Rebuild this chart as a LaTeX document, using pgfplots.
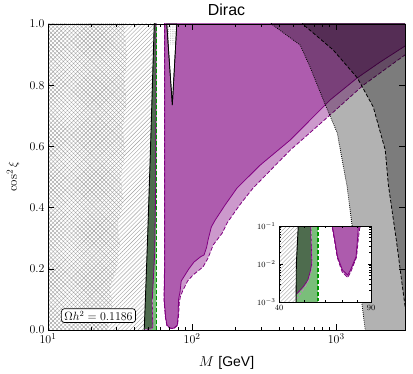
\documentclass[border=0pt]{standalone}
\usepackage{fontspec}
\newfontfamily\helv{Liberation Sans}
\usepackage{pgfplots}
\usepackage{pgfplotstable}
\pgfplotsset{compat=1.18}
\usetikzlibrary{patterns.meta}

\definecolor{mplpurple}{RGB}{128,0,128}
\definecolor{dkgreen}{RGB}{78,108,78}
\definecolor{ltgreen}{RGB}{122,190,122}
\definecolor{dashgreen}{RGB}{0,150,0}

% hatched region (M below the black line)
\pgfplotstableread{
M c
9 0.0001
46.5 0.0001
46.5 0.001
46.6 0.01
47.4 0.1
49.1 0.3
51.1 0.55
55.0 1.05
9 1.05
}\hatchne
\pgfplotstableread{
M c
9 -0.05
26 -0.05
26.5 0.03
28 0.08
27 0.14
30 0.2
31.5 0.28
30.5 0.35
33.5 0.42
32 0.5
34.5 0.58
33 0.66
35 0.74
34 0.82
35.5 0.9
34 0.97
35 1.05
9 1.05
}\hatchnw
\pgfplotstableread{
M c
46.5 0.0001
46.5 0.001
46.6 0.01
47.4 0.1
49.1 0.3
51.1 0.55
55.0 1.05
}\blackline
\pgfplotstableread{
M c
46.5 0.0001
46.5 0.001
46.6 0.01
47.4 0.1
49.1 0.3
51.1 0.55
55.0 1.05
56.4 1.05
56.4 0.0001
}\greenlt
\pgfplotstableread{
M c
46.55 0.0016
46.6 0.01
47.4 0.1
49.1 0.3
51.1 0.55
55.0 1.05
56.2 1.05
56.0 0.5
55.0 0.25
52.9 0.1
53.2 0.03
53.4 0.0104
52.6 0.006
51.5 0.0037
49.5 0.0025
47.4 0.0018
}\greendk
\pgfplotstableread{
M c
56.2 1.05
56.0 0.5
55.0 0.25
52.9 0.1
53.2 0.03
53.4 0.0104
52.6 0.006
51.5 0.0037
49.5 0.0025
47.4 0.0018
46.6 0.0016
}\greencurve
\pgfplotstableread{
M c
53.1 0.1
53.5 0.03
53.6 0.008
52.5 0.0045
51.2 0.003
49.3 0.002
47.2 0.0013
46.6 0.0012
}\greencurvedash
\pgfplotstableread{
M c
64.3 1.1
64.3 0.2
63.8 0.1
65.3 0.04
66.8 0.015
69.8 0.0062
73.3 0.0044
75.3 0.0062
79.2 0.015
80.6 0.05
81.5 0.09
83.0 0.11
86.6 0.131
93 0.16
101.6 0.18
119 0.206
129 0.235
140 0.278
162 0.317
175 0.35
215 0.41
265 0.464
480 0.588
908 0.703
1540 0.80
3000 0.899
3500 0.92
3500 1.1
}\purplelt
\pgfplotstableread{
M c
64.5 1.1
64.5 0.2
64.0 0.1
65.5 0.04
67.0 0.0155
70.0 0.0069
73.3 0.0051
75.1 0.0069
78.9 0.0155
80.0 0.05
80.5 0.1
82.5 0.125
84 0.16
88 0.175
95 0.2
103 0.222
115 0.24
121 0.245
126 0.27
129 0.294
136 0.337
144.5 0.359
169 0.408
205 0.464
297 0.539
480 0.621
908 0.752
1400 0.824
2022 0.876
3000 0.928
3500 0.94
3500 1.1
}\purpledk
\pgfplotstableread{
M c
66.7 1.0
72.9 0.735
78.3 1.0
}\notch
\pgfplotstableread{
M c
66.9 1.0
68.3 0.93
76.9 0.93
78.1 1.0
}\notchdots
\pgfplotstableread{
M c
340 1.1
355 1.0
562 0.931
659 0.859
813 0.752
1016 0.644
1191 0.467
1355 0.261
1589 0.0
1650 -0.1
4000 -0.1
4000 1.1
}\greydot
\pgfplotstableread{
M c
570 1.1
585 1.0
953 0.915
1400 0.824
1806 0.729
2188 0.588
2300 0.474
2611 0.294
2917 0.121
3100 0.03
4000 -0.1
4000 1.1
}\greydash

\begin{document}
\begin{tikzpicture}
\path[use as bounding box] (-48bp,-44bp) rectangle (365bp,330bp);
\begin{axis}[
  scale only axis, width=357bp, height=306bp,
  xmode=log, xmin=10, xmax=3000, ymin=0, ymax=1,
  ytick={0,0.2,0.4,0.6,0.8,1.0},
  yticklabel style={/pgf/number format/.cd, fixed, fixed zerofill, precision=1},
  tick label style={font=\fontsize{13}{15}\selectfont},
  title={\helv Dirac},
  title style={font=\fontsize{16}{18}\selectfont, yshift=-1pt},
  xlabel={$M$ {\helv [GeV]}},
  xlabel style={font=\fontsize{14}{16}\selectfont, at={(0.5,-0.118)}, anchor=base},
  ylabel={$\cos^2\xi$},
  ylabel style={font=\fontsize{13}{15}\selectfont, at={(-0.098,0.5)}, anchor=center},
  axis on top, tick align=inside,
  major tick length=6bp, minor tick length=3bp,
  every tick/.style={black, line width=0.6pt},
  axis line style={line width=0.8pt},
]
\addplot[draw=none, pattern={Lines[angle=-45, distance=2.9pt, line width=0.4pt]}, pattern color=gray!75] table {\hatchnw} -- cycle;
\addplot[draw=none, pattern={Lines[angle=45, distance=2.9pt, line width=0.4pt]}, pattern color=gray!75] table {\hatchne} -- cycle;
\addplot[draw=none, fill=ltgreen] table {\greenlt} -- cycle;
\addplot[draw=none, fill=dkgreen] table {\greendk} -- cycle;
\addplot[mplpurple, line width=0.8pt] table {\greencurve};
\addplot[mplpurple!50, line width=0.8pt, dash pattern=on 3pt off 2pt] table {\greencurvedash};
\addplot[black, line width=0.9pt] table {\blackline};
\addplot[mplpurple, dash pattern=on 4pt off 2pt, line width=0.8pt, fill=mplpurple, fill opacity=0.4] table {\purplelt} -- cycle;
\addplot[mplpurple, line width=0.8pt, fill=mplpurple, fill opacity=0.4] table {\purpledk} -- cycle;
\addplot[black, line width=0.7pt, fill=white] table {\notch} -- cycle;
\addplot[draw=none, pattern={Dots[distance=1.8pt, radius=0.35pt]}, pattern color=gray] table {\notchdots} -- cycle;
\addplot[black, line width=0.7pt] table {\notch};
\addplot[black, dash pattern=on 0.8pt off 1.2pt, line width=0.8pt, fill=black, fill opacity=0.3] table {\greydot} -- cycle;
\addplot[black, dash pattern=on 3.5pt off 2pt, line width=0.8pt, fill=black, fill opacity=0.3] table {\greydash} -- cycle;
\addplot[dashgreen, line width=1.4pt, dash pattern=on 4pt off 2pt] coordinates {(56.4,0) (56.4,1)};
\node[draw=black, fill=white, rounded corners=3pt, line width=0.7pt, inner xsep=3pt, inner ysep=2.2pt,
  font=\fontsize{11.5}{13}\selectfont] at (axis cs:22.4,0.047) {$\Omega h^2 = 0.1186$};
\end{axis}

\begin{axis}[
  at={(231bp,28bp)}, anchor=south west,
  scale only axis, width=92bp, height=76bp,
  xmode=log, ymode=log, xmin=40, xmax=90, ymin=1e-3, ymax=1e-1,
  xtick={40,90}, xticklabels={40,90}, minor xtick={50,60,70,80},
  ytick={1e-3,1e-2,1e-1},
  tick label style={font=\fontsize{8}{9}\selectfont},
  axis background/.style={fill=white},
  axis on top, tick align=inside,
  major tick length=3.5bp, minor tick length=2bp,
  every tick/.style={black, line width=0.5pt},
  axis line style={line width=0.8pt},
]
\addplot[draw=none, pattern={Lines[angle=45, distance=2.9pt, line width=0.4pt]}, pattern color=gray!75] table {\hatchne} -- cycle;
\addplot[draw=none, fill=ltgreen] table {\greenlt} -- cycle;
\addplot[draw=none, fill=dkgreen] table {\greendk} -- cycle;
\addplot[mplpurple, line width=0.8pt] table {\greencurve};
\addplot[mplpurple!50, line width=0.8pt, dash pattern=on 3pt off 2pt] table {\greencurvedash};
\addplot[black, line width=0.9pt] table {\blackline};
\addplot[mplpurple, dash pattern=on 4pt off 2pt, line width=0.8pt, fill=mplpurple, fill opacity=0.4] table {\purplelt} -- cycle;
\addplot[mplpurple, line width=0.8pt, fill=mplpurple, fill opacity=0.4] table {\purpledk} -- cycle;
\addplot[dashgreen, line width=1.4pt, dash pattern=on 4pt off 2pt] coordinates {(56.4,0.0005) (56.4,0.2)};
\end{axis}
\end{tikzpicture}
\end{document}
